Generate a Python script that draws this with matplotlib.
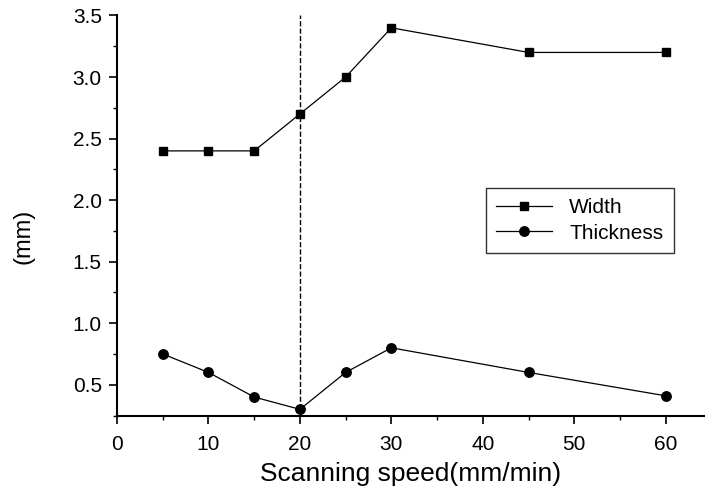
import matplotlib
matplotlib.use('Agg')
import matplotlib.pyplot as plt
from matplotlib.ticker import MultipleLocator

plt.rcParams['font.family'] = ['Liberation Sans', 'DejaVu Sans']

speed = [5, 10, 15, 20, 25, 30, 45, 60]
width = [2.4, 2.4, 2.4, 2.7, 3.0, 3.4, 3.2, 3.2]
thickness = [0.75, 0.6, 0.4, 0.3, 0.6, 0.8, 0.6, 0.41]

fig = plt.figure(figsize=(7.05, 5), dpi=100)
ax = fig.add_axes([0.166, 0.169, 0.834, 0.8])

ax.plot(speed, width, 'k-', marker='s', ms=6, lw=0.9, label='Width')
ax.plot(speed, thickness, 'k-', marker='o', ms=6.8, lw=0.9, label='Thickness')
ax.axvline(20, color='k', ls='--', lw=1)

ax.set_xlim(0, 64.3)
ax.set_ylim(0.25, 3.5)
ax.xaxis.set_major_locator(MultipleLocator(10))
ax.xaxis.set_minor_locator(MultipleLocator(5))
ax.yaxis.set_major_locator(MultipleLocator(0.5))
ax.yaxis.set_minor_locator(MultipleLocator(0.25))
ax.spines['top'].set_visible(False)
ax.spines['right'].set_visible(False)
ax.spines['left'].set_linewidth(1.5)
ax.spines['bottom'].set_linewidth(1.5)
ax.tick_params(which='major', length=6, width=1.2, labelsize=15, pad=5)
ax.tick_params(axis='x', which='major', pad=8)
ax.tick_params(which='minor', length=3, width=1)

ax.set_xlabel('Scanning speed(mm/min)', fontsize=19, labelpad=6)
ax.set_ylabel('(mm)', fontsize=17)
ax.yaxis.set_label_coords(-0.141, 0.449)

leg = ax.legend(loc='upper left', bbox_to_anchor=(0.627, 0.569), fontsize=15,
                frameon=True, fancybox=False, edgecolor='k', handlelength=2.7,
                borderaxespad=0, borderpad=0.5, labelspacing=0.3)
leg.get_frame().set_linewidth(1)

fig.savefig('out.png', dpi=100)
